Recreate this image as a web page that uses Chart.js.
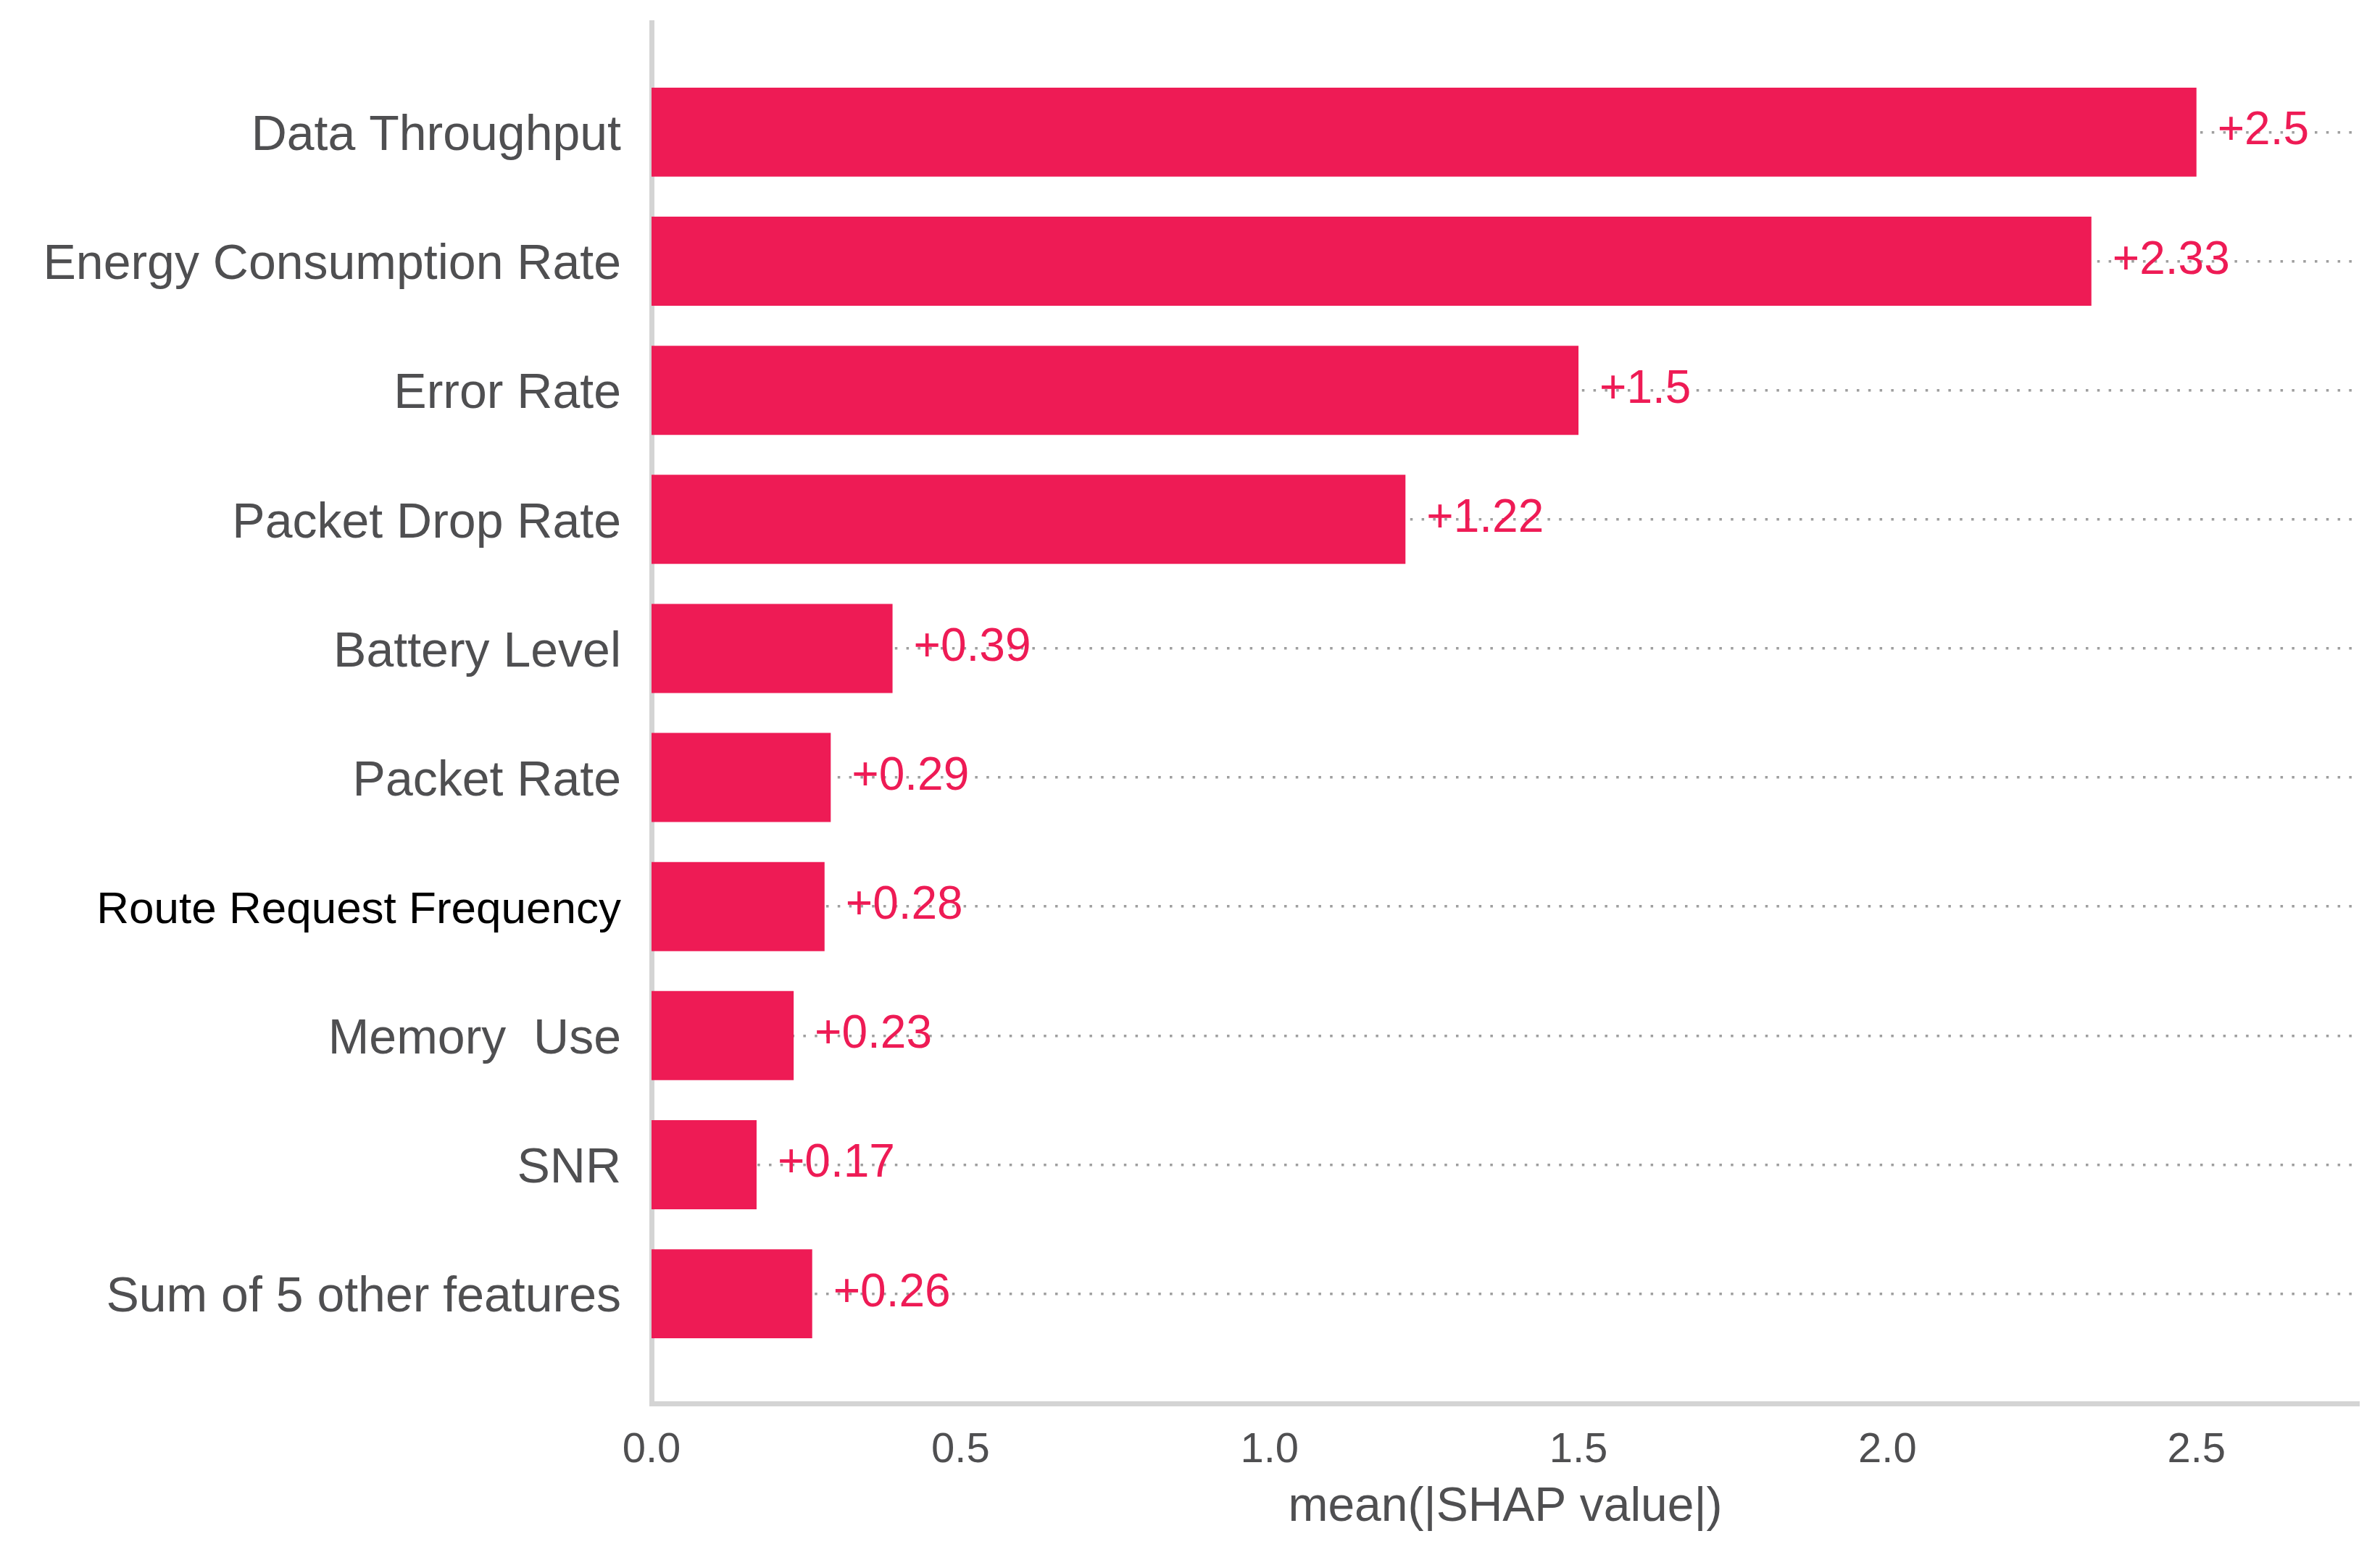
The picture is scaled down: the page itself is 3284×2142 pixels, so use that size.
<!DOCTYPE html>
<html>
<head>
<meta charset="utf-8">
<script src="https://cdn.jsdelivr.net/npm/chart.js@4.4.1/dist/chart.umd.min.js"></script>
<style>
  html, body { margin: 0; padding: 0; background: #fff; }
  #shap { display: block; }
</style>
</head>
<body>
<canvas id="shap" width="3284" height="2142" style="width:3284px;height:2142px"></canvas>
<script>
// features, top to bottom
const features = [
  'Data Throughput',
  'Energy Consumption Rate',
  'Error Rate',
  'Packet Drop Rate',
  'Battery Level',
  'Packet Rate',
  'Route Request Frequency',
  'Memory  Use',
  'SNR',
  'Sum of 5 other features'
];
const meanShap = [2.5, 2.33, 1.5, 1.22, 0.39, 0.29, 0.28, 0.23, 0.17, 0.26];
const xTicks = [0, 0.5, 1.0, 1.5, 2.0, 2.5];

const RED = '#ee1b55';
const GREY_TEXT = '#4f4f51';
const FONT = '"Liberation Sans", Arial, sans-serif';

// "+2.5" style labels at the end of each bar
const valueLabels = {
  id: 'valueLabels',
  afterDatasetsDraw(chart) {
    const ctx = chart.ctx;
    const meta = chart.getDatasetMeta(0);
    ctx.save();
    ctx.font = '64px ' + FONT;
    ctx.fillStyle = RED;
    ctx.textAlign = 'left';
    ctx.textBaseline = 'alphabetic';
    meta.data.forEach((bar, i) => {
      ctx.fillText('+' + meanShap[i], bar.x + 29, bar.y + 17);
    });
    ctx.restore();
  }
};

const ctx = document.getElementById('shap');

new Chart(ctx, {
  type: 'bar',
  data: {
    datasets: [{
      data: meanShap.map((v, i) => ({ x: v, y: i })),
      backgroundColor: RED,
      borderWidth: 0,
      categoryPercentage: 1,
      barPercentage: 0.69
    }]
  },
  options: {
    indexAxis: 'y',
    responsive: false,
    animation: false,
    devicePixelRatio: 1,
    layout: { padding: { top: 31, right: 29, left: 0, bottom: 0 } },
    plugins: {
      legend: { display: false },
      tooltip: { enabled: false }
    },
    scales: {
      x: {
        type: 'linear',
        min: 0,
        max: 2.763,
        afterBuildTicks: (scale) => { scale.ticks = xTicks.map(v => ({ value: v })); },
        afterFit: (scale) => { scale.height = 205; },
        grid: { display: false, drawTicks: false },
        border: { display: true, color: '#d4d4d4', width: 7 },
        ticks: {
          padding: 30,
          color: GREY_TEXT,
          font: { family: FONT, size: 58 },
          callback: (v) => v.toFixed(1)
        },
        title: {
          display: true,
          text: 'mean(|SHAP value|)',
          color: GREY_TEXT,
          font: { family: FONT, size: 66 },
          padding: { top: 0, bottom: 22 }
        }
      },
      y: {
        type: 'linear',
        reverse: true,
        offset: false,
        min: -0.85,
        max: 9.85,
        afterBuildTicks: (scale) => { scale.ticks = features.map((f, i) => ({ value: i })); },
        afterFit: (scale) => {
          scale.width = 899;
          scale.paddingTop = 0;
          scale.paddingBottom = 0;
        },
        grid: {
          display: true,
          offset: false,
          drawTicks: false,
          color: '#9e9e9e',
          lineWidth: 3.5
        },
        border: { display: true, color: '#d4d4d4', width: 7, dash: [3.5, 12.3] },
        ticks: {
          padding: 42,
          labelOffset: 6,
          color: (c) => features[c.index] === 'Route Request Frequency' ? '#000000' : GREY_TEXT,
          font: (c) => ({ family: FONT, size: features[c.index] === 'Route Request Frequency' ? 62 : 68 }),
          callback: (v) => features[v] !== undefined ? features[v] : ''
        }
      }
    }
  },
  plugins: [valueLabels]
});
</script>
</body>
</html>
